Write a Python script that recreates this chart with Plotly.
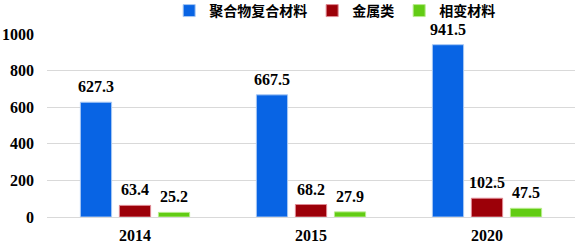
import plotly.graph_objects as go

years = ["2014", "2015", "2020"]
polymer = [627.3, 667.5, 941.5]
metal = [63.4, 68.2, 102.5]
pcm = [25.2, 27.9, 47.5]
names = ["聚合物复合材料", "金属类", "相变材料"]
colors = ["#0864e4", "#9c0008", "#62cc14"]
edges = ["#a8c8f4", "#e08a94", "#b8ec8c"]

W, H = 577, 244
ML, MR, MT, MB = 47, 2, 34, 27
BARGAP, GROUPGAP = 0.335, 0.2

fig = go.Figure()
for vals, nm, c, e in zip([polymer, metal, pcm], names, colors, edges):
    fig.add_trace(go.Bar(
        x=years, y=vals, name=nm,
        marker=dict(color=c, line=dict(color=e, width=1)),
    ))

# value labels placed at each bar top via the data coordinates
# (category axis: annotation x given as the category index)
plot_w = W - ML - MR
slot = plot_w / len(years) * (1 - BARGAP) / 3
series = [polymer, metal, pcm]
for i, vals in enumerate(series):
    for j, v in enumerate(vals):
        fig.add_annotation(
            x=j, y=v, xref="x", yref="y", text=f"{v:.1f}",
            showarrow=False, yanchor="bottom", xanchor="center",
            xshift=(i - 1) * slot, yshift=5,
            font=dict(family="Liberation Serif", size=16, color="#000000", weight="bold"),
        )

fig.update_layout(
    width=W, height=H,
    margin=dict(l=ML, r=MR, t=MT, b=MB),
    paper_bgcolor="white", plot_bgcolor="white",
    barmode="group", bargap=BARGAP, bargroupgap=GROUPGAP,
    font=dict(family="Liberation Serif", size=16, color="#000000"),
    legend=dict(
        orientation="h", xref="container", yref="container",
        x=0.58, xanchor="center", y=0.955, yanchor="middle",
        font=dict(family="Noto Sans CJK SC", size=14, color="#000000", weight="bold"),
        itemwidth=30, tracegroupgap=0,
        bgcolor="rgba(0,0,0,0)",
    ),
)
fig.update_xaxes(
    type="category", range=[-0.5, len(years) - 0.5], automargin=False,
    showgrid=False, showline=False, ticks="",
    tickfont=dict(family="Liberation Serif", size=16, weight="bold"),
    ticklabelstandoff=7,
)
fig.update_yaxes(
    range=[0, 1000], tickvals=[0, 200, 400, 600, 800, 1000], automargin=False,
    showgrid=True, gridcolor="#d9d9d9", gridwidth=1,
    zeroline=True, zerolinecolor="#d9d9d9", zerolinewidth=1,
    tickfont=dict(family="Liberation Serif", size=16, weight="bold"),
    ticklabelstandoff=12,
)

fig.write_html("out.html")
